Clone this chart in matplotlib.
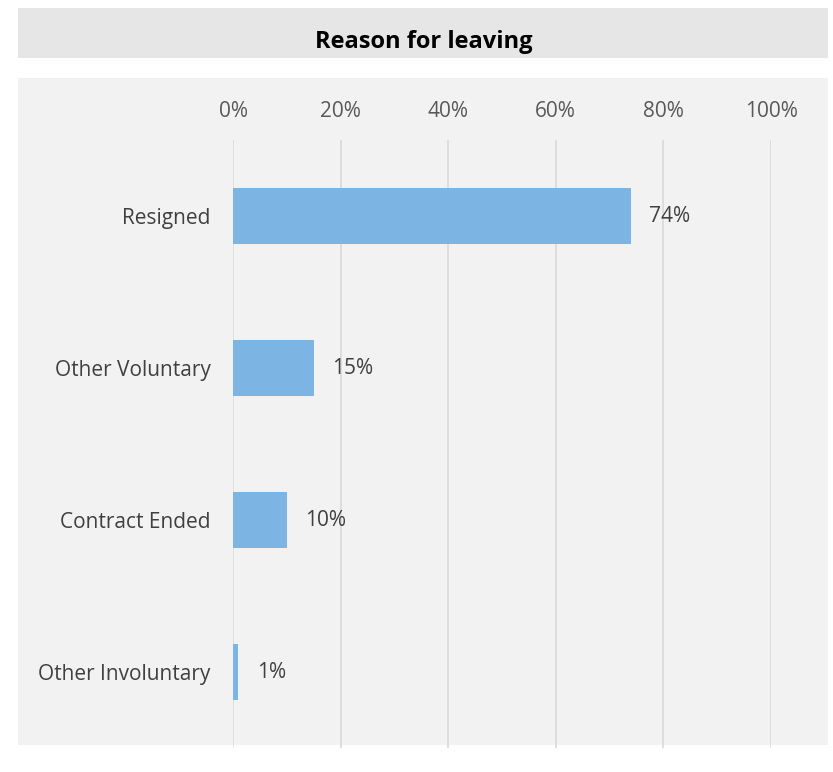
import matplotlib.pyplot as plt
from matplotlib.patches import Rectangle
from matplotlib.ticker import PercentFormatter

reasons = ["Resigned", "Other Voluntary", "Contract Ended", "Other Involuntary"]
shares = [74, 15, 10, 1]
title = "Reason for leaving"

W, H = 833, 772
fig = plt.figure(figsize=(W / 100, H / 100), dpi=100)
fig.patch.set_facecolor("white")


def px_rect(x0, y0, x1, y1, color):
    # rectangle given in pixel coords (origin top-left), kept behind the axes
    fig.patches.append(Rectangle((x0 / W, 1 - y1 / H), (x1 - x0) / W, (y1 - y0) / H,
                                 transform=fig.transFigure, facecolor=color,
                                 edgecolor="none", zorder=-10))


px_rect(18, 8, 828, 58, "#e6e6e6")
px_rect(18, 78, 828, 745, "#f2f2f2")
fig.text(424 / W, 1 - 42 / H, title, ha="center", va="center", fontsize=17,
         fontweight="bold", family="Open Sans", color="#000000")

ax_l, ax_r, ax_t, ax_b = 233, 771, 140, 748
ax = fig.add_axes([ax_l / W, 1 - ax_b / H, (ax_r - ax_l) / W, (ax_b - ax_t) / H])
ax.set_facecolor("none")

ypos = list(range(len(reasons)))
ax.barh(ypos, shares, height=0.37, color="#7cb4e4", zorder=3)
for y, v in zip(ypos, shares):
    ax.text(v + 3.4, y, f"{v}%", va="center", ha="left", fontsize=15,
            family="Open Sans", color="#404040")

ax.set_xlim(0, 100)
ax.set_ylim(len(reasons) - 0.5, -0.5)
ax.set_xticks([0, 20, 40, 60, 80, 100])
ax.xaxis.set_major_formatter(PercentFormatter(decimals=0))
ax.xaxis.tick_top()
ax.tick_params(axis="x", length=0, pad=13, labelsize=15, labelcolor="#595959")
ax.set_yticks(ypos)
ax.set_yticklabels(reasons)
ax.tick_params(axis="y", length=0, pad=16, labelsize=15, labelcolor="#404040")
for lbl in ax.get_xticklabels() + ax.get_yticklabels():
    lbl.set_family("Open Sans")

ax.grid(axis="x", color="#d9d9d9", linewidth=1.2, zorder=0)
for s in ax.spines.values():
    s.set_visible(False)

fig.savefig("out.png", dpi=100, facecolor="white")
